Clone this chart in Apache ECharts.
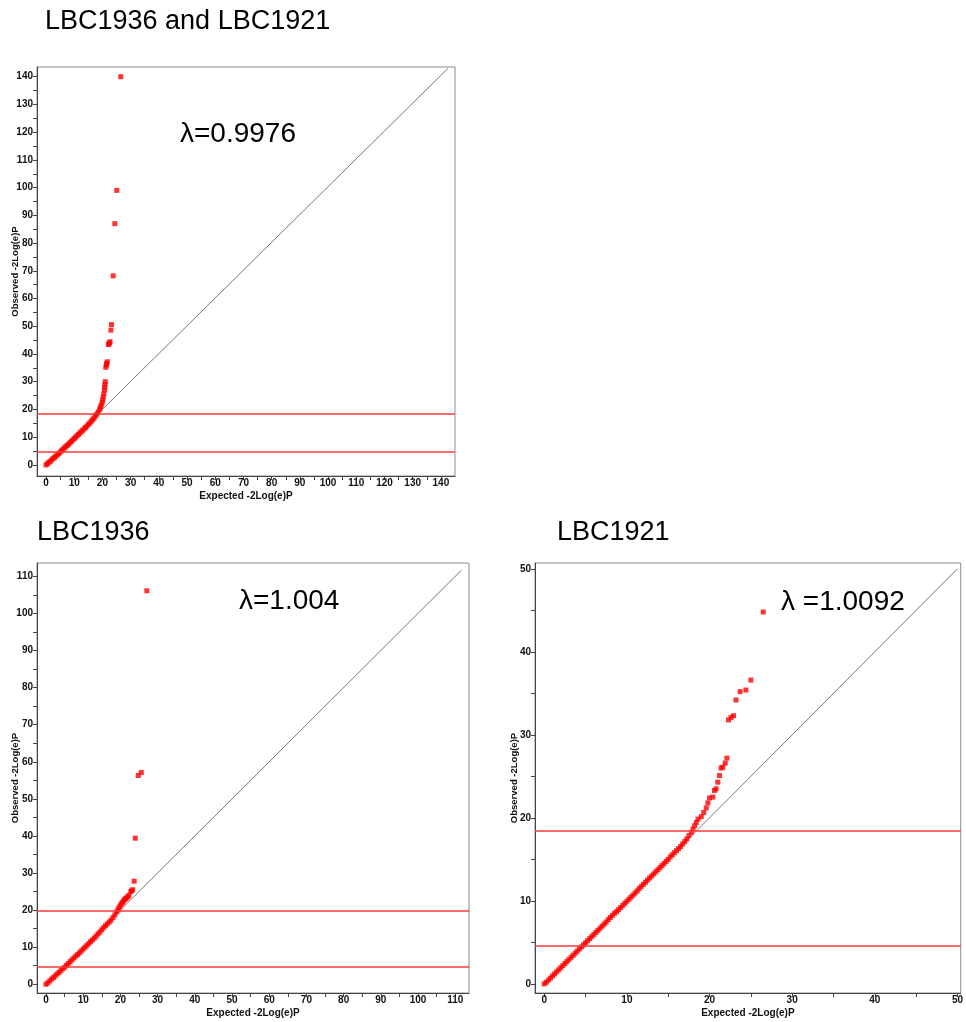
<!DOCTYPE html>
<html>
<head>
<meta charset="utf-8">
<script src="https://cdn.jsdelivr.net/npm/echarts@6/dist/echarts.min.js"></script>
<style>
html,body{margin:0;padding:0;background:#fff;}
#chart{width:966px;height:1022px;}
</style>
</head>
<body>
<div id="chart"></div>
<script>
// ---------- titles / annotations ----------
const panelTitles = ['LBC1936 and LBC1921', 'LBC1936', 'LBC1921'];
const lambdaLabels = ['λ=0.9976', 'λ=1.004', 'λ =1.0092'];
const xAxisTitle = 'Expected -2Log(e)P';
const yAxisTitle = 'Observed -2Log(e)P';

// ---------- tick labels ----------
const combinedTicks = [0,10,20,30,40,50,60,70,80,90,100,110,120,130,140];
const combinedMinor = [0,5,10,15,20,25,30,35,40,45,50,55,60,65,70,75,80,85,90,95,100,105,110,115,120,125,130,135,140];
const lbc1936Ticks = [0,10,20,30,40,50,60,70,80,90,100,110];
const lbc1936Minor = [0,5,10,15,20,25,30,35,40,45,50,55,60,65,70,75,80,85,90,95,100,105,110];
const lbc1921Ticks = [0,10,20,30,40,50];
const lbc1921Minor = [0,5,10,15,20,25,30,35,40,45,50];

// ---------- thresholds (horizontal red lines) ----------
const combinedThresholds = [4.6, 18.4];
const lbc1936Thresholds = [4.6, 19.8];
const lbc1921Thresholds = [4.6, 18.4];

// ---------- reference diagonal end ----------
const combinedDiagonal = [[0,0],[142.5,143]];
const lbc1936Diagonal = [[0,0],[111.7,111.7]];
const lbc1921Diagonal = [[0,0],[50,50]];

// ---------- observed vs expected points ----------
const combinedPoints = [[0,0],[0.5,0.4],[1,0.9],[1.5,1.3],[2,1.8],[2.5,2.3],[3,2.7],[3.5,3.2],[4,3.6],[4.5,4.1],[5,4.6],[5.5,5.1],[6,5.6],[6.5,6.1],[7,6.6],[7.5,7.0],[8,7.5],[8.5,8.0],[9,8.5],[9.5,9.0],[10,9.5],[10.5,10.0],[11,10.5],[11.5,11.0],[12,11.5],[12.5,12.0],[13,12.5],[13.5,13.0],[14,13.5],[14.5,14.0],[15,14.6],[15.5,15.1],[16,15.7],[16.5,16.3],[17,16.9],[17.5,17.6],[18,18.3],[18.5,19.1],[19,20.0],[19.3,20.8],[19.6,21.6],[19.9,22.5],[20.1,23.4],[20.3,24.5],[20.5,25.6],[20.7,27.0],[20.8,28.0],[20.9,29.0],[21.0,30.0],[21.2,35.2],[21.4,36.0],[21.5,36.6],[21.7,37.2],[22.1,43.4],[22.3,43.7],[22.5,44.0],[22.7,44.4],[23.0,48.6],[23.2,50.6],[23.8,68.2],[24.4,87.0],[25.1,99.0],[26.5,140.0]];

const lbc1936Points = [[0,0],[0.5,0.4],[1,0.9],[1.5,1.4],[2,1.8],[2.5,2.3],[3,2.8],[3.5,3.2],[4,3.7],[4.5,4.2],[5,4.6],[5.5,5.1],[6,5.6],[6.5,6.1],[7,6.6],[7.5,7.1],[8,7.6],[8.5,8.0],[9,8.5],[9.5,9.0],[10,9.5],[10.5,10.0],[11,10.5],[11.5,11.0],[12,11.5],[12.5,12.0],[13,12.5],[13.5,13.0],[14,13.6],[14.5,14.1],[15,14.7],[15.5,15.3],[16,15.8],[16.5,16.3],[17,16.8],[17.5,17.3],[18,18.0],[18.5,18.7],[19,19.5],[19.3,20.0],[19.6,20.6],[19.9,21.1],[20.2,21.6],[20.5,22.0],[20.8,22.4],[21.1,22.8],[21.4,23.1],[21.7,23.3],[22.0,23.6],[22.3,24.0],[22.8,25.0],[23.0,25.2],[23.3,25.5],[23.7,27.8],[24.0,39.4],[24.8,56.3],[25.6,57.1],[27.1,106.1]];

const lbc1921Points = [[0,0],[0.25,0.2],[0.5,0.45],[0.75,0.7],[1,0.95],[1.25,1.2],[1.5,1.45],[1.75,1.7],[2,1.95],[2.25,2.2],[2.5,2.45],[2.75,2.7],[3,2.95],[3.25,3.2],[3.5,3.45],[3.75,3.7],[4,3.95],[4.25,4.2],[4.5,4.45],[4.75,4.7],[5,4.95],[5.25,5.2],[5.5,5.45],[5.75,5.7],[6,5.95],[6.25,6.2],[6.5,6.45],[6.75,6.7],[7,6.95],[7.25,7.2],[7.5,7.45],[7.75,7.75],[8,8.0],[8.25,8.25],[8.5,8.5],[8.75,8.7],[9,8.95],[9.25,9.2],[9.5,9.45],[9.75,9.7],[10,9.95],[10.25,10.2],[10.5,10.45],[10.75,10.7],[11,10.95],[11.25,11.2],[11.5,11.5],[11.75,11.75],[12,12.0],[12.25,12.25],[12.5,12.5],[12.75,12.75],[13,13.0],[13.25,13.25],[13.5,13.5],[13.75,13.75],[14,14.0],[14.25,14.25],[14.5,14.5],[14.75,14.75],[15,15.0],[15.25,15.3],[15.5,15.55],[15.75,15.8],[16,16.05],[16.25,16.3],[16.5,16.55],[16.75,16.85],[17,17.15],[17.25,17.45],[17.5,17.85],[17.8,18.25],[18,18.65],[18.2,19.05],[18.4,19.45],[18.6,19.85],[19,20.15],[19.3,20.65],[19.6,21.2],[19.8,21.8],[20,22.4],[20.4,22.5],[20.6,23.3],[20.8,23.5],[21,24.3],[21.2,25.1],[21.4,26.0],[21.6,26.1],[21.9,26.6],[22.1,27.2],[22.3,31.8],[22.6,32.1],[22.9,32.3],[23.2,34.2],[23.7,35.2],[24.4,35.4],[25,36.6],[26.5,44.8]];

// ---------- layout ----------
const FONT = '"Liberation Sans", Arial, Helvetica, sans-serif';
const panels = [
  {grid:{left:37, top:67, width:418, height:409}, x:[-3.2,145], y:[-4,143.5],
   ticks:combinedTicks, minor:combinedMinor, thr:combinedThresholds, diag:combinedDiagonal, pts:combinedPoints, yGap:17},
  {grid:{left:37, top:563, width:432, height:430}, x:[-2.42,113.7], y:[-2.35,113.6],
   ticks:lbc1936Ticks, minor:lbc1936Minor, thr:lbc1936Thresholds, diag:lbc1936Diagonal, pts:lbc1936Points, yGap:17},
  {grid:{left:535, top:563, width:426, height:430}, x:[-1.12,50.4], y:[-1.1,50.7],
   ticks:lbc1921Ticks, minor:lbc1921Minor, thr:lbc1921Thresholds, diag:lbc1921Diagonal, pts:lbc1921Points, yGap:16}
];

const grids = [], xAxes = [], yAxes = [], series = [];
panels.forEach((p, i) => {
  grids.push(Object.assign({show:true, borderColor:'#8a8a8a', borderWidth:1, backgroundColor:'#fff'}, p.grid));
  const common = {
    type:'value', gridIndex:i,
    axisLine:{show:true, onZero:false, lineStyle:{color:'#444', width:1}},
    axisTick:{show:true, customValues:p.minor, length:4, inside:false, lineStyle:{color:'#444', width:1}},
    splitLine:{show:false}, minorTick:{show:false},
    nameTextStyle:{fontFamily:FONT, fontSize:10, fontWeight:'bold', color:'#111'}
  };
  xAxes.push(Object.assign({}, common, {
    min:p.x[0], max:p.x[1],
    axisLabel:{customValues:p.ticks, fontFamily:FONT, fontSize:10, fontWeight:'bold', color:'#111', margin:2},
    name:xAxisTitle, nameLocation:'middle', nameGap:15
  }));
  yAxes.push(Object.assign({}, common, {
    min:p.y[0], max:p.y[1],
    axisLabel:{customValues:p.ticks, fontFamily:FONT, fontSize:10, fontWeight:'bold', color:'#111', margin:4, padding:[0,0,6,0]},
    name:yAxisTitle, nameLocation:'middle', nameGap:p.yGap, nameMoveOverlap:false,
    nameTextStyle:{fontFamily:FONT, fontSize:9.5, fontWeight:'bold', color:'#111'}
  }));
  series.push({
    type:'line', xAxisIndex:i, yAxisIndex:i, data:p.diag, symbol:'none', silent:true,
    lineStyle:{color:'#555', width:0.8}, z:2,
    markLine:{silent:true, symbol:'none', label:{show:false},
      lineStyle:{color:'#ff3a3a', width:1.5, type:'solid'},
      data:p.thr.map(v => ({yAxis:v}))}
  });
  series.push({
    type:'scatter', xAxisIndex:i, yAxisIndex:i, data:p.pts, symbol:'rect', symbolSize:5,
    itemStyle:{color:'#ff0000'}, clip:false, z:3, silent:true
  });
});

const graphics = [
  {type:'text', left:45, top:8, style:{text:panelTitles[0], font:'27px ' + FONT, fill:'#000'}},
  {type:'text', left:37, top:519, style:{text:panelTitles[1], font:'27px ' + FONT, fill:'#000'}},
  {type:'text', left:557, top:519, style:{text:panelTitles[2], font:'27px ' + FONT, fill:'#000'}},
  {type:'text', left:180, top:120, style:{text:lambdaLabels[0], font:'28px ' + FONT, fill:'#000'}},
  {type:'text', left:239, top:587, style:{text:lambdaLabels[1], font:'28px ' + FONT, fill:'#000'}},
  {type:'text', left:781, top:588, style:{text:lambdaLabels[2], font:'28px ' + FONT, fill:'#000'}}
];

const chart = echarts.init(document.getElementById('chart'), null, {renderer:'canvas'});
chart.setOption({
  animation:false,
  backgroundColor:'#fff',
  grid:grids, xAxis:xAxes, yAxis:yAxes, series:series, graphic:graphics
});
</script>
</body>
</html>
